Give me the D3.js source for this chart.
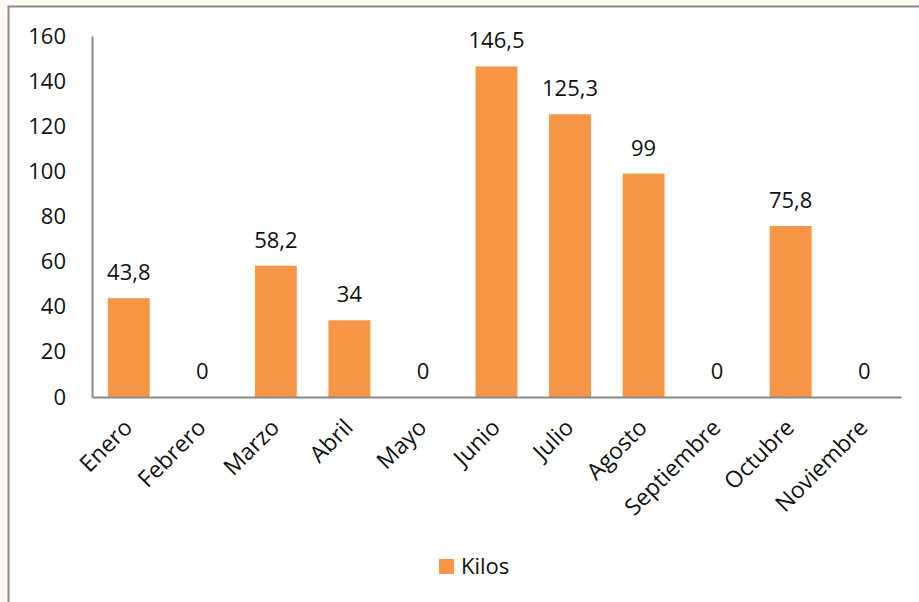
<!DOCTYPE html>
<html>
<head>
<meta charset="utf-8">
<script src="https://cdn.jsdelivr.net/npm/d3@7"></script>
<style>
  html, body { margin: 0; padding: 0; background: #fdf8f1; }
  svg { display: block; }
  text { font-family: "Open Sans", sans-serif; fill: #111; }
</style>
</head>
<body>
<script>
const months = ["Enero", "Febrero", "Marzo", "Abril", "Mayo", "Junio", "Julio", "Agosto", "Septiembre", "Octubre", "Noviembre"];
const kilos = [43.8, 0, 58.2, 34, 0, 146.5, 125.3, 99, 0, 75.8, 0];
const yTicks = [0, 20, 40, 60, 80, 100, 120, 140, 160];
const seriesName = "Kilos";

const width = 919, height = 602;
const barColor = "#f79646";
const axisColor = "#898989";
const fmt = v => String(v).replace(".", ",");

const svg = d3.select("body").append("svg")
    .attr("width", width)
    .attr("height", height);

// chart frame (white area with grey border, runs off the right/bottom edge)
svg.append("rect")
    .attr("x", 8.5).attr("y", 6.5)
    .attr("width", width).attr("height", height)
    .attr("fill", "#fff")
    .attr("stroke", "#8a8a8a")
    .attr("stroke-width", 2);

const xScale = d3.scaleBand()
    .domain(months)
    .range([92, 901])
    .paddingInner(0.43)
    .paddingOuter(0.215);

const yScale = d3.scaleLinear()
    .domain([0, 160])
    .range([397, 36]);

// bars
svg.selectAll(".bar")
    .data(months).enter()
    .append("rect")
    .attr("class", "bar")
    .attr("x", d => xScale(d))
    .attr("width", xScale.bandwidth())
    .attr("y", (d, i) => yScale(kilos[i]))
    .attr("height", (d, i) => yScale(0) - yScale(kilos[i]))
    .attr("fill", barColor);

// y axis
const yAxis = svg.append("g")
    .attr("transform", "translate(92,0)")
    .call(d3.axisLeft(yScale).tickValues(yTicks).tickSize(0).tickPadding(26));
yAxis.select(".domain").attr("stroke", axisColor).attr("stroke-width", 2);
yAxis.selectAll("text")
    .style("font-family", "'Open Sans', sans-serif")
    .style("font-size", "22px")
    .attr("fill", "#111");

// x axis
const xAxis = svg.append("g")
    .attr("transform", "translate(0,397)")
    .call(d3.axisBottom(xScale).tickSize(0).tickFormat(""));
xAxis.select(".domain").attr("stroke", axisColor).attr("stroke-width", 2);

// rotated month labels
svg.selectAll(".month")
    .data(months).enter()
    .append("text")
    .attr("class", "month")
    .attr("text-anchor", "end")
    .attr("transform", d => "translate(" + (xScale(d) + xScale.bandwidth() / 2 + 5) + ",429) rotate(-45)")
    .style("font-size", "23px")
    .text(d => d);

// value labels
svg.selectAll(".val")
    .data(months).enter()
    .append("text")
    .attr("class", "val")
    .attr("text-anchor", "middle")
    .attr("x", d => xScale(d) + xScale.bandwidth() / 2)
    .attr("y", (d, i) => yScale(kilos[i]) - 18)
    .style("font-size", "22px")
    .text((d, i) => fmt(kilos[i]));

// legend
const legend = svg.append("g").attr("transform", "translate(439,559)");
legend.append("rect")
    .attr("width", 15).attr("height", 15)
    .attr("fill", barColor);
legend.append("text")
    .attr("x", 22).attr("y", 15)
    .style("font-size", "22px")
    .text(seriesName);
</script>
</body>
</html>
